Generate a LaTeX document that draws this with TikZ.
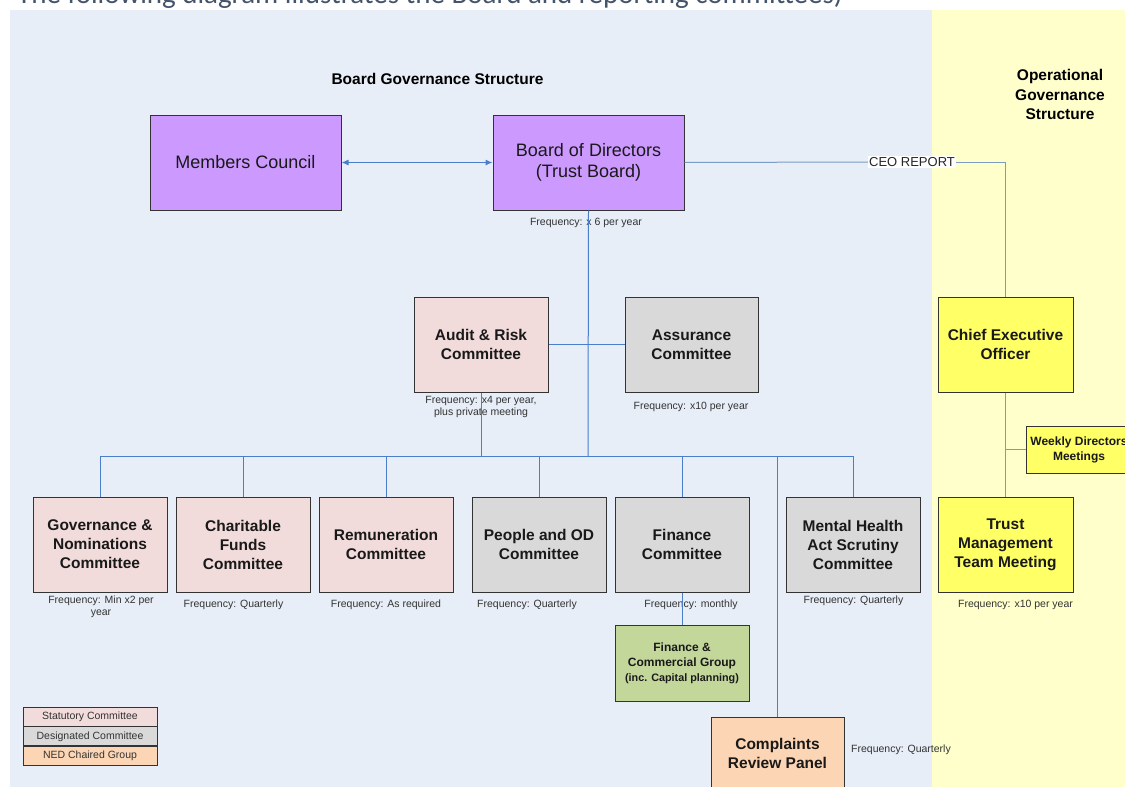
\documentclass[tikz,border=0pt]{standalone}
\usepackage{fontspec}
\setmainfont{Liberation Sans}
\newfontfamily\calfont{Carlito}
\usetikzlibrary{arrows.meta}
\definecolor{bgblue}{HTML}{E7EEF7}
\definecolor{bgyellow}{HTML}{FFFFCC}
\definecolor{cpurple}{HTML}{CC99FF}
\definecolor{cpink}{HTML}{F2DCDB}
\definecolor{cgray}{HTML}{D9D9D9}
\definecolor{cgreen}{HTML}{C4D79B}
\definecolor{cpeach}{HTML}{FCD5B4}
\definecolor{cyel}{HTML}{FFFF66}
\definecolor{cline}{HTML}{4A7EC8}
\definecolor{cline2}{HTML}{7B9CC4}
\definecolor{ctext}{HTML}{333333}
\definecolor{ctop}{HTML}{44546A}
\tikzset{
  box/.style={draw=black!80, line width=1pt, align=center, inner sep=0pt, text=black!90},
  bigbox/.style={box, minimum width=191pt, minimum height=95pt, fill=cpurple, font=\fontsize{18}{21}\selectfont},
  combox/.style={box, minimum width=134pt, minimum height=95pt, font=\bfseries\fontsize{15.5}{19}\selectfont},
  freq/.style={align=center, inner sep=0pt, text=ctext, font=\fontsize{10.5}{12}\selectfont},
  conn/.style={draw=cline, line width=1pt},
  conn2/.style={draw=cline2, line width=1pt},
  legbox/.style={draw=black!80, line width=0.8pt, minimum width=134pt, minimum height=19pt, inner sep=0pt, text=ctext, font=\fontsize{10.5}{12}\selectfont},
  title/.style={align=center, inner sep=0pt, font=\bfseries\fontsize{15.5}{19.5}\selectfont}
}
\begin{document}
\begin{tikzpicture}[x=1pt,y=-1pt]
\useasboundingbox (0,0) rectangle (1125,787);
\clip (0,0) rectangle (1125,787);
\fill[white] (0,0) rectangle (1125,787);
\fill[bgblue] (10,10) rectangle (932,790);
\fill[bgyellow] (932,10) rectangle (1130,790);
\node[anchor=base west, inner sep=0pt, text=ctop, font=\calfont\fontsize{29}{32}\selectfont] (toptext) at (17,3) {The following diagram illustrates the Board and reporting committees)};

% titles
\node[title] (t1) at (437.5,79) {Board Governance Structure};
\node[title] (t2) at (1060,94.5) {Operational\\Governance\\Structure};

% top boxes
\node[bigbox] (mc) at (245.5,162.5) {Members Council};
\node[bigbox] (bod) at (588.5,162.5) {Board of Directors\\(Trust Board)};
\node[freq] (fbod) at (586,223) {Frequency: x 6 per year};

% second row
\node[combox, fill=cpink] (audit) at (481,344.5) {Audit \& Risk\\Committee};
\node[combox, fill=cgray, minimum width=133pt] (assur) at (691.5,344.5) {Assurance\\Committee};
\node[combox, fill=cyel, minimum width=135pt] (ceo) at (1005.5,344.5) {Chief Executive\\Officer};
\node[freq] (faudit) at (481,407) {Frequency: x4 per year,\\plus private meeting};
\node[freq] (fassur) at (691,407) {Frequency: x10 per year};

% bottom row
\node[combox, fill=cpink] (gov) at (100,544.5) {Governance \&\\Nominations\\Committee};
\node[combox, fill=cpink] (char) at (243,544.5) {Charitable\\Funds\\Committee};
\node[combox, fill=cpink] (rem) at (386,544.5) {Remuneration\\Committee};
\node[combox, fill=cgray] (people) at (539,544.5) {People and OD\\Committee};
\node[combox, fill=cgray] (fin) at (682,544.5) {Finance\\Committee};
\node[combox, fill=cgray] (mh) at (853,544.5) {Mental Health\\Act Scrutiny\\Committee};
\node[combox, fill=cyel, minimum width=135pt] (tmt) at (1005.5,544.5) {Trust\\Management\\Team Meeting};

\node[freq] (fgov) at (101,606.5) {Frequency: Min x2 per\\year};
\node[freq] (fchar) at (233.5,605) {Frequency: Quarterly};
\node[freq] (frem) at (386,605) {Frequency: As required};
\node[freq] (fpeople) at (527,605) {Frequency: Quarterly};
\node[freq] (ffin) at (691,605) {Frequency: monthly};
\node[freq] (fmh) at (853.5,601) {Frequency: Quarterly};
\node[freq] (ftmt) at (1015.5,605) {Frequency: x10 per year};

% lower groups
\node[box, fill=cgreen, minimum width=134pt, minimum height=76pt, font=\bfseries\fontsize{12}{15}\selectfont] (fc) at (682,663) {Finance \&\\Commercial Group\\{\fontsize{10.8}{13}\selectfont (inc. Capital planning)}};
\node[box, fill=cpeach, minimum width=133pt, minimum height=73pt, font=\bfseries\fontsize{15.5}{19}\selectfont] (comp) at (777.5,753.5) {Complaints\\Review Panel};
\node[freq, anchor=west] (fcomp) at (851,750) {Frequency: Quarterly};
\node[box, fill=cyel, minimum width=106pt, minimum height=47pt, font=\bfseries\fontsize{12}{15}\selectfont] (weekly) at (1079,449.5) {Weekly Directors\\Meetings};

% legend
\node[legbox, fill=cpink] (l1) at (90,716.5) {Statutory Committee};
\node[legbox, fill=cgray, anchor=north] (l2) at (l1.south) {Designated Committee};
\node[legbox, fill=cpeach, anchor=north] (l3) at (l2.south) {NED Chaired Group};

% connectors
\draw[conn, {Latex[length=7pt,width=6pt]}-{Latex[length=7pt,width=6pt]}] (mc.east) -- (bod.west);
\node[fill=white, inner sep=1pt, text=black!85, font=\fontsize{13}{15}\selectfont] (ceolab) at (912,162) {CEO REPORT};
\draw[conn2] (bod.east) -- (ceolab.west);
\draw[conn2] (ceolab.east) -| (ceo.north);
\coordinate (bus) at (588,456);
\draw[conn] (bod.south) -- (bus);
\draw[conn] (audit.east) -- (assur.west);
\draw[conn] (audit.south) -- (audit.south |- bus);
\coordinate (busl) at (100,456);
\coordinate (busr) at (853,456);
\draw[conn] (busl) -- (busr);
\draw[conn] (gov.north) -- (gov.north |- bus);
\draw[conn] (char.north) -- (char.north |- bus);
\draw[conn] (rem.north) -- (rem.north |- bus);
\draw[conn] (people.north) -- (people.north |- bus);
\draw[conn] (fin.north) -- (fin.north |- bus);
\draw[conn] (mh.north) -- (mh.north |- bus);
\draw[conn] (comp.north) -- (comp.north |- bus);
\draw[conn] (fin.south) -- (fc.north);
\draw[conn2] (ceo.south) -- (tmt.north);
\coordinate (wk) at (ceo.south |- weekly.west);
\draw[conn2] (wk) -- (weekly.west);
\end{tikzpicture}
\end{document}
